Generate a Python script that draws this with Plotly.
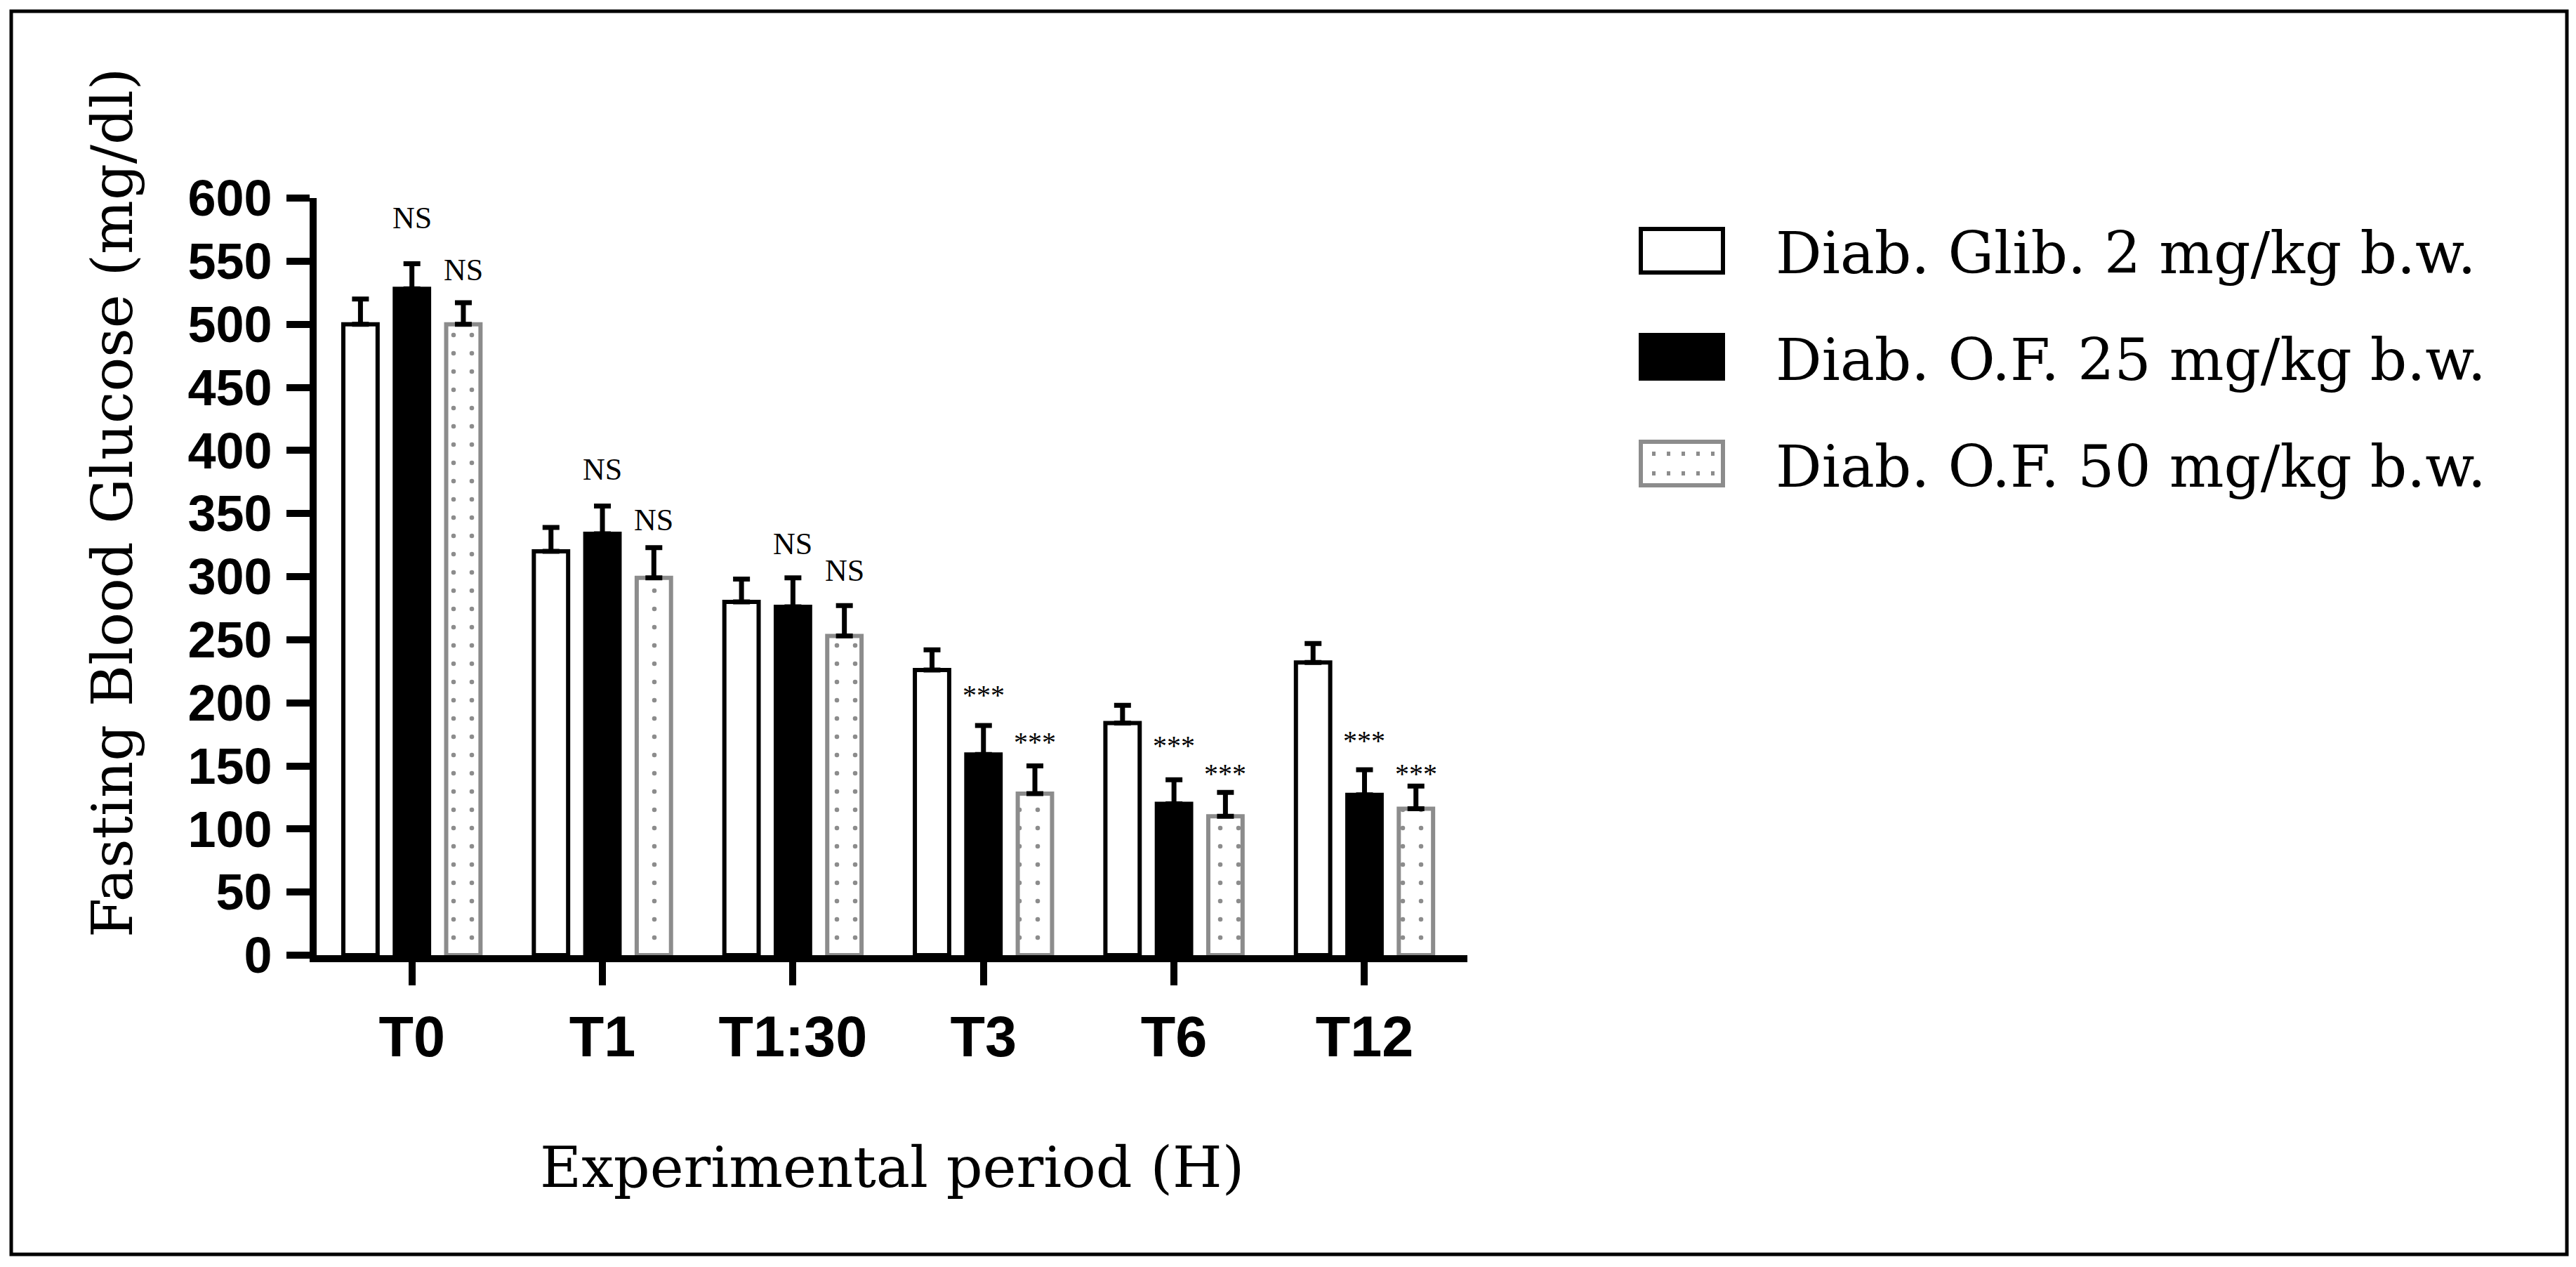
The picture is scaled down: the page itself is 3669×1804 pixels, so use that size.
import plotly.graph_objects as go

# ---------------- data ----------------
categories = ["T0", "T1", "T1:30", "T3", "T6", "T12"]
series_names = ["Diab. Glib. 2 mg/kg b.w.", "Diab. O.F. 25 mg/kg b.w.", "Diab. O.F. 50 mg/kg b.w."]

glib_mean = [500, 320, 280, 226, 184, 232]
glib_err = [20, 19, 18, 16, 14, 15]

of25_mean = [528, 334, 276, 159, 120, 127]
of25_err = [20, 22, 23, 23, 19, 20]

of50_mean = [500, 299, 253, 128, 110, 116]
of50_err = [17, 24, 24, 22, 19, 18]

of25_sig = ["NS", "NS", "NS", "***", "***", "***"]
of25_sig_y = [584, 385, 326, 206, 166, 170]
of50_sig = ["NS", "NS", "NS", "***", "***", "***"]
of50_sig_y = [543, 345, 305, 169, 144, 144]

y_ticks = [0, 50, 100, 150, 200, 250, 300, 350, 400, 450, 500, 550, 600]

# ---------------- layout constants ----------------
W, H = 3669, 1804
SLOT = 0.27
BW = 0.18
GRAY = "#8c8c8c"

def px(x):
    return x / W

def py(y):
    return 1 - y / H

xs = list(range(len(categories)))

fig = go.Figure()

styles = [
    dict(color="white", line=dict(color="black", width=6)),
    dict(color="black", line=dict(color="black", width=6)),
    dict(color="white", line=dict(color=GRAY, width=6),
         pattern=dict(shape=".", fgcolor=GRAY, bgcolor="white", size=26, solidity=0.05)),
]
means = [glib_mean, of25_mean, of50_mean]
errs = [glib_err, of25_err, of50_err]

for j in range(3):
    fig.add_trace(go.Bar(
        x=xs, y=means[j], name=series_names[j],
        width=BW, offset=(j - 1) * SLOT - BW / 2,
        marker=styles[j],
        error_y=dict(type="data", array=errs[j], arrayminus=[0] * len(xs), symmetric=False,
                     color="black", thickness=7, width=12),
        showlegend=False,
    ))

annotations = []
for j, (labels, ys) in enumerate([(of25_sig, of25_sig_y), (of50_sig, of50_sig_y)], start=1):
    for i, (t, yv) in enumerate(zip(labels, ys)):
        annotations.append(dict(
            x=i + (j - 1) * SLOT, y=yv, xref="x", yref="y", text=t, showarrow=False,
            xanchor="center", yanchor="middle",
            font=dict(family="Liberation Serif", size=44 if t == "NS" else 40, color="black"),
        ))

# axis titles
annotations.append(dict(
    x=px(160), y=py(716), xref="paper", yref="paper", text="Fasting Blood Glucose (mg/dl)",
    textangle=-90, showarrow=False, xanchor="center", yanchor="middle",
    font=dict(family="DejaVu Serif", size=81, color="black")))
annotations.append(dict(
    x=px(1270), y=py(1662), xref="paper", yref="paper", text="Experimental period (H)",
    showarrow=False, xanchor="center", yanchor="middle",
    font=dict(family="DejaVu Serif", size=81, color="black")))

# legend (drawn manually for large swatches)
legend_rows = [357, 508, 660]
shapes = []
sw_x0, sw_x1, sw_h = 2337, 2454, 62
for k, yc in enumerate(legend_rows):
    line_col = GRAY if k == 2 else "black"
    fill = "black" if k == 1 else "white"
    shapes.append(dict(type="rect", xref="paper", yref="paper",
                       x0=px(sw_x0), x1=px(sw_x1), y0=py(yc + sw_h / 2), y1=py(yc - sw_h / 2),
                       line=dict(color=line_col, width=6), fillcolor=fill))
    annotations.append(dict(
        x=px(2527), y=py(yc + 4), xref="paper", yref="paper", text=series_names[k],
        showarrow=False, xanchor="left", yanchor="middle",
        font=dict(family="DejaVu Serif", size=82, color="black")))

# dots inside third swatch
yc = legend_rows[2]
for ry in (-14, 14):
    for cx in range(5):
        x0 = sw_x0 + 16 + cx * 21
        shapes.append(dict(type="rect", xref="paper", yref="paper",
                           x0=px(x0), x1=px(x0 + 5), y0=py(yc + ry + 3), y1=py(yc + ry - 3),
                           line=dict(width=0), fillcolor=GRAY))

# outer frame
shapes.append(dict(type="rect", xref="paper", yref="paper",
                   x0=px(16), x1=px(3656), y0=py(1786), y1=py(16),
                   line=dict(color="black", width=5), fillcolor="rgba(0,0,0,0)"))

fig.update_layout(
    template="none",
    width=W, height=H, autosize=False,
    margin=dict(l=0, r=0, t=0, b=0, pad=0),
    paper_bgcolor="white", plot_bgcolor="white",
    barmode="overlay",
    annotations=annotations, shapes=shapes,
    xaxis=dict(
        domain=[px(451), px(2090)], range=[-0.5, 5.54], automargin=False,
        tickmode="array", tickvals=xs, ticktext=categories,
        showline=True, linecolor="black", linewidth=10,
        ticks="outside", ticklen=33, tickwidth=10, tickcolor="black",
        showgrid=False, zeroline=False,
        tickfont=dict(family="Liberation Sans", size=81, color="black", weight="bold"),
        ticklabelstandoff=4,
    ),
    yaxis=dict(
        domain=[py(1360), py(282)], range=[0, 600], automargin=False,
        tickmode="array", tickvals=y_ticks,
        showline=True, linecolor="black", linewidth=10,
        ticks="outside", ticklen=33, tickwidth=10, tickcolor="black",
        showgrid=False, zeroline=False,
        tickfont=dict(family="Liberation Sans", size=72, color="black", weight="bold"),
        ticklabelstandoff=6,
    ),
)

fig.write_html("out.html", config={"displayModeBar": False},
               post_script="document.body.style.margin='0';document.body.style.overflow='hidden';")
